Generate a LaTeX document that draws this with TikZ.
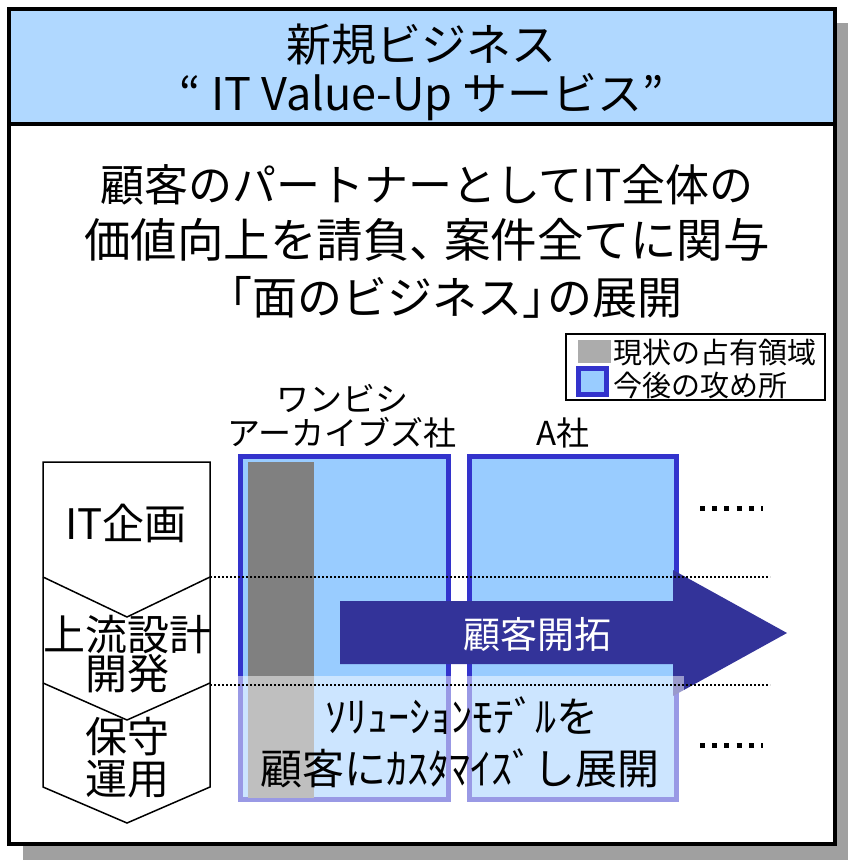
\documentclass[tikz,border=0pt]{standalone}
\usepackage{fontspec}
\setmainfont{Noto Sans CJK JP}
\definecolor{hdr}{RGB}{176,216,255}
\definecolor{lb}{RGB}{153,204,255}
\definecolor{bb}{RGB}{51,51,204}
\definecolor{arr}{RGB}{51,51,153}
\definecolor{shd}{RGB}{160,160,160}
\definecolor{gbar}{RGB}{128,128,128}
\definecolor{lgray}{RGB}{172,172,172}
\tikzset{
  txt/.style={inner sep=0pt, anchor=center},
  tbig/.style={txt, font=\fontsize{45}{55}\selectfont},
  tlab/.style={txt, font=\fontsize{42}{50}\selectfont},
  tleg/.style={inner sep=0pt, anchor=west, font=\fontsize{29}{34}\selectfont},
  tco/.style={txt, font=\fontsize{33}{40}\selectfont},
  cobox/.style={draw=bb, fill=lb, line width=5pt},
  dotline/.style={line width=1.3pt, dash pattern=on 1.6pt off 2.4pt},
  moredots/.style={line width=5pt, dash pattern=on 5pt off 7.2pt},
}
\begin{document}
\begin{tikzpicture}[x=1pt,y=-1pt]
\useasboundingbox (0,0) rectangle (848,861);
% shadow and frame
\fill[shd] (23,23) rectangle (848,860);
\fill[white] (9,9) rectangle (835,844);
\fill[hdr] (9,9) rectangle (835,124.5);
\draw[line width=4pt] (9,124.5) -- (835,124.5);
\draw[line width=4pt] (9,9) rectangle (835,844);
% title
\node[tbig] (t1) at (421,45) {新規ビジネス};
\node[tbig] (t2) at (422,97) {“ IT Value-Up サービス”};
% main text
\node[tbig, font=\fontsize{44}{55}\selectfont] (m1) at (427,185) {顧客のパートナーとしてIT全体の};
\node[tbig, font=\fontsize{46.5}{55}\selectfont] (m2) at (427,240) {価値向上を請負、\kern-0.25em 案件全てに関与};
\node[tbig] (m3) at (455,297) {\kern-0.45em「面のビジネス」\kern-0.45em の展開};
% legend
\draw[line width=1.5pt] (566,334) rectangle (825,400);
\fill[lgray] (578,340) rectangle (611,363);
\draw[draw=bb, fill=lb, line width=5pt] (578.5,368.5) rectangle (606.5,394.5);
\node[tleg] (l1) at (613,353) {現状の占有領域};
\node[tleg] (l2) at (613,385) {今後の攻め所};
% company labels
\node[tco] (c1a) at (342,398) {ワンビシ};
\node[tco] (c1b) at (342,433) {アーカイブズ社};
\node[tco] (c2) at (563,433) {A社};
% company boxes
\draw[cobox] (240.5,456.5) rectangle (448.5,799.5);
\draw[cobox] (469.5,456.5) rectangle (676.5,799.5);
\fill[gbar] (248,462) rectangle (314,798);
% chevrons
\draw[line width=1.5pt, line join=miter]
  (43,462) -- (210,462) -- (210,787) -- (127,823) -- (43,787) -- cycle;
\draw[line width=1.5pt] (43,577) -- (127,617) -- (210,577);
\draw[line width=1.5pt] (43,683) -- (127,720) -- (210,683);
\node[tlab] (p1) at (126,523) {IT企画};
\node[tlab] (p2a) at (127,635) {上流設計};
\node[tlab] (p2b) at (127,674) {開発};
\node[tlab] (p3a) at (127,737) {保守};
\node[tlab] (p3b) at (127,779) {運用};
% arrow
\fill[arr] (340,601) -- (673,601) -- (673,570) -- (787,633) -- (673,696) -- (673,664) -- (340,664) -- cycle;
\node[txt, text=white, font=\fontsize{37}{44}\selectfont] (a1) at (537,634) {顧客開拓};
% overlay
\fill[white, fill opacity=0.5] (238,676) rectangle (684,802);
% dotted lines
\draw[dotline] (210,577) -- (770,577);
\draw[dotline] (210,685) -- (770,685);
% lower text
\node[tlab] (s1) at (462,716) {ｿﾘｭｰｼｮﾝﾓﾃﾞﾙを};
\node[tlab] (s2) at (460,768) {顧客にｶｽﾀﾏｲｽﾞし展開};
% more dots
\draw[moredots] (700,508) -- (763,508);
\draw[moredots] (700,745) -- (763,745);
\end{tikzpicture}
\end{document}
